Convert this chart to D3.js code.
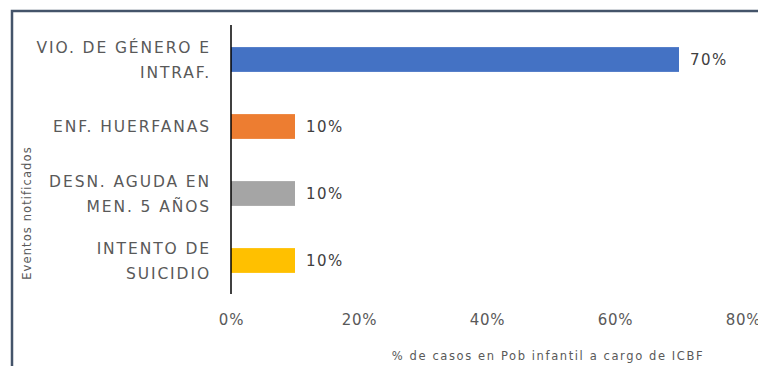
<!doctype html>
<html>
<head>
<meta charset="utf-8">
<style>
  body { margin:0; background:#fff; }
  svg { display:block; font-family:"DejaVu Sans", Arial, sans-serif; }
  .cat { font-size:15.5px; fill:#595959; letter-spacing:1.9px; }
  .val { font-size:15px; fill:#404040; letter-spacing:1.4px; }
  .tick text { font-size:15px; fill:#595959; letter-spacing:0.8px; }
  .ttl { font-size:11.5px; fill:#595959; }
</style>
<script src="https://d3js.org/d3.v7.min.js"></script>
</head>
<body>
<svg id="chart" width="758" height="366"></svg>
<script>
// datos
var categorias = [["VIO. DE GÉNERO E", "INTRAF."], ["ENF. HUERFANAS"], ["DESN. AGUDA EN", "MEN. 5 AÑOS"], ["INTENTO DE", "SUICIDIO"]]
var valores = [0.70, 0.10, 0.10, 0.10]
var colores = ["#4472c4", "#ed7d31", "#a5a5a5", "#ffc000"]
var ticks = [0, 0.2, 0.4, 0.6, 0.8]
var tituloX = "% de casos en Pob infantil a cargo de ICBF"
var tituloY = "Eventos notificados"

var svg = d3.select("#chart")

// marco
svg.append("rect")
   .attr("x", 12).attr("y", 11).attr("width", 800).attr("height", 400)
   .attr("fill", "none").attr("stroke", "#44546a").attr("stroke-width", 2.5)

var x = d3.scaleLinear().domain([0, 0.8]).range([231, 743])
var y = d3.scaleBand().domain(d3.range(valores.length)).range([26, 294])
          .paddingInner(0.63).paddingOuter(0.315)

svg.selectAll("rect.bar")
   .data(valores)
   .enter().append("rect")
   .attr("class", "bar")
   .attr("x", x(0))
   .attr("y", function(d,i){ return y(i) })
   .attr("width", function(d){ return x(d) - x(0) })
   .attr("height", y.bandwidth())
   .attr("fill", function(d,i){ return colores[i] })

svg.selectAll("text.val")
   .data(valores)
   .enter().append("text")
   .attr("class", "val")
   .attr("x", function(d){ return x(d) + 11 })
   .attr("y", function(d,i){ return y(i) + y.bandwidth()/2 })
   .attr("dy", "0.36em")
   .text(function(d){ return d3.format(".0%")(d) })

// etiquetas de categoria
categorias.forEach(function(lineas, i) {
  var cy = y(i) + y.bandwidth()/2
  var t = svg.append("text").attr("class", "cat").attr("text-anchor", "end")
  lineas.forEach(function(l, j) {
    t.append("tspan")
     .attr("x", 211)
     .attr("y", cy + (j - (lineas.length-1)/2) * 25)
     .attr("dy", "0.36em")
     .text(l)
  })
})

// eje x (solo etiquetas)
var ax = svg.append("g")
   .attr("transform", "translate(0,322)")
   .call(d3.axisBottom(x).tickValues(ticks).tickFormat(d3.format(".0%")).tickSize(0))
ax.select(".domain").remove()
ax.selectAll("text").attr("font-family", null).attr("font-size", null).attr("fill", null).attr("dy", "0")
ax.attr("font-family", null).attr("font-size", null)

// linea vertical del eje
svg.append("line")
   .attr("x1", x(0)).attr("x2", x(0)).attr("y1", 25).attr("y2", 294)
   .attr("stroke", "#000").attr("stroke-width", 1.5)

svg.append("text").attr("class", "ttl")
   .attr("x", 548).attr("y", 360).attr("text-anchor", "middle")
   .attr("letter-spacing", "1.6px")
   .text(tituloX)

svg.append("text").attr("class", "ttl")
   .attr("transform", "translate(31,213) rotate(-90)")
   .attr("text-anchor", "middle")
   .attr("letter-spacing", "1.1px")
   .text(tituloY)
</script>
</body>
</html>
